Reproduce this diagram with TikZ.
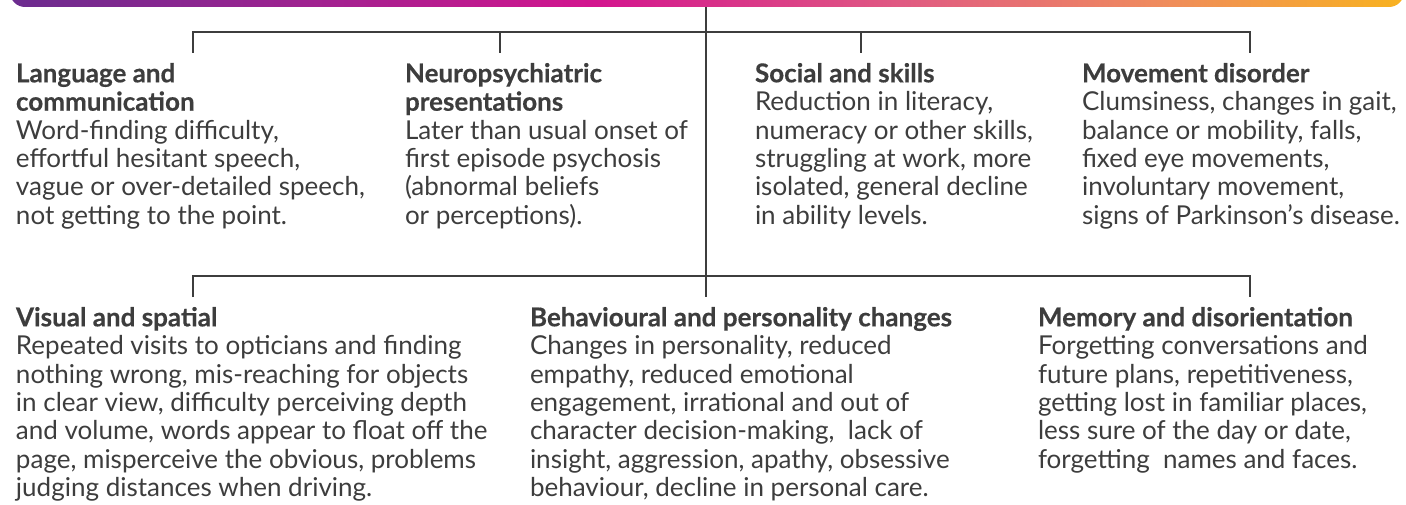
\documentclass[tikz,border=0pt]{standalone}
\usepackage{fontspec}
\setmainfont{Lato}[BoldFeatures={FakeBold=0.4}]
\usetikzlibrary{calc}

\definecolor{barA}{HTML}{6B2C8F}
\definecolor{barB}{HTML}{9C2390}
\definecolor{barC}{HTML}{D3158E}
\definecolor{barD}{HTML}{E05A82}
\definecolor{barE}{HTML}{EF8A5E}
\definecolor{barF}{HTML}{F8B220}
\definecolor{ink}{HTML}{3D3D3D}

\pgfdeclarehorizontalshading{barshade}{100bp}{color(0bp)=(barA); color(25bp)=(barA); color(35bp)=(barB); color(46bp)=(barC); color(57bp)=(barD); color(66bp)=(barE); color(75bp)=(barF); color(100bp)=(barF)}

\tikzset{
  item/.style={anchor=north west, inner sep=0pt, outer sep=0pt, align=left, text=ink,
    font=\fontsize{26}{28.4}\selectfont},
  wire/.style={draw=ink, line width=1.8pt},
}

\begin{document}
\begin{tikzpicture}[x=1pt, y=-1pt]
  %%%%% START %%%%%
  \useasboundingbox (0,0) rectangle (1406,505);

  % colour band along the top
  \begin{scope}
    \clip (0,0) rectangle (1406,505);
    \shade[shading=barshade, rounded corners=15] (10,-40) rectangle (1404,7);
  \end{scope}

  % upper row
  \node[item] (lang) at (16,63) {\textbf{Language and}\\\textbf{communication}\\
    Word-finding difficulty,\\effortful hesitant speech,\\
    vague or over-detailed speech,\\not getting to the point.};
  \node[item] (neuro) at (405,63) {\textbf{Neuropsychiatric}\\\textbf{presentations}\\
    Later than usual onset of\\first episode psychosis\\
    (abnormal beliefs\\or perceptions).};
  \node[item] (social) at (755,63) {\textbf{Social and skills}\\
    Reduction in literacy,\\numeracy or other skills,\\
    struggling at work, more\\isolated, general decline\\in ability levels.};
  \node[item] (move) at (1082,63) {\textbf{Movement disorder}\\
    Clumsiness, changes in gait,\\balance or mobility, falls,\\
    fixed eye movements,\\involuntary movement,\\signs of Parkinson’s disease.};

  % lower row
  \node[item] (visual) at (16,307) {\textbf{Visual and spatial}\\
    Repeated visits to opticians and finding\\nothing wrong, mis-reaching for objects\\
    in clear view, difficulty perceiving depth\\and volume, words appear to float off the\\
    page, misperceive the obvious, problems\\judging distances when driving.};
  \node[item] (behav) at (530,307) {\textbf{Behavioural and personality changes}\\
    Changes in personality, reduced\\empathy, reduced emotional\\
    engagement, irrational and out of\\character decision-making,~ lack of\\
    insight, aggression, apathy, obsessive\\behaviour, decline in personal care.};
  \node[item] (memory) at (1038,307) {\textbf{Memory and disorientation}\\
    Forgetting conversations and\\future plans, repetitiveness,\\
    getting lost in familiar places,\\less sure of the day or date,\\
    forgetting~ names and faces.};

  % bracket points
  \coordinate (hub) at (706,7);
  \coordinate (upjoin) at (706,32);
  \coordinate (lowjoin) at (706,276);
  \coordinate (tail) at (706,297);
  \coordinate (up1) at (193,32);   \coordinate (up1e) at (193,53);
  \coordinate (up2) at (500,32);   \coordinate (up2e) at (500,53);
  \coordinate (up3) at (861,32);   \coordinate (up3e) at (861,53);
  \coordinate (up4) at (1250,32);  \coordinate (up4e) at (1250,53);
  \coordinate (low1) at (193,276); \coordinate (low1e) at (193,297);
  \coordinate (low3) at (1250,276);\coordinate (low3e) at (1250,297);

  % stem and brackets
  \draw[wire] (hub) -- (tail);
  \draw[wire] (up1e) -- (up1) -- (up4) -- (up4e);
  \draw[wire] (up2) -- (up2e);
  \draw[wire] (up3) -- (up3e);
  \draw[wire] (low1e) -- (low1) -- (low3) -- (low3e);
  %%%%% END %%%%%
\end{tikzpicture}
\end{document}
